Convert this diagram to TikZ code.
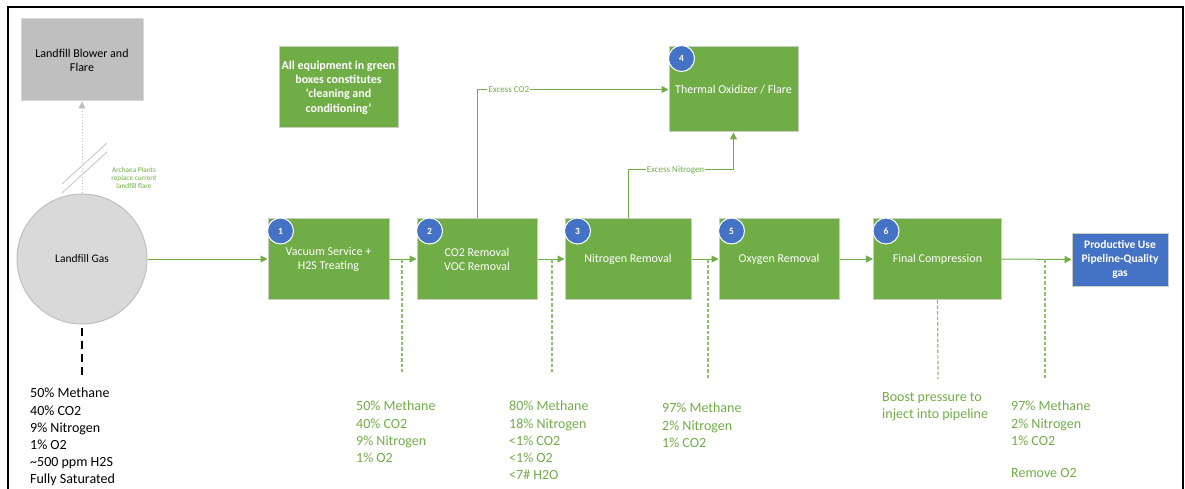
\documentclass[tikz,border=0pt]{standalone}
\usepackage{fontspec}
\setmainfont{Carlito}
\usetikzlibrary{arrows.meta,positioning,calc}
\definecolor{grn}{HTML}{70AD47}
\definecolor{lgrn}{HTML}{8CC26A}
\definecolor{bdr}{HTML}{C8CFC2}
\definecolor{blu}{HTML}{4472C4}
\definecolor{gbox}{HTML}{BFBFBF}
\definecolor{gcirc}{HTML}{D9D9D9}
\tikzset{
  procbox/.style={draw=bdr, line width=1pt, fill=grn, text=white, align=center,
    font=\fontsize{12}{14}\selectfont, inner sep=2pt},
  badge/.style={circle, fill=blu, draw=white, line width=1pt, minimum size=26pt,
    inner sep=0pt, text=white, font=\bfseries\fontsize{9.5}{10}\selectfont},
  flow/.style={draw=grn, line width=1pt, -{Triangle[length=7pt,width=7pt]}},
  tap/.style={draw=lgrn, line width=1.2pt, dash pattern=on 3.5pt off 2pt},
  gtext/.style={text=grn, align=left, anchor=north west, inner sep=0pt,
    font=\fontsize{14}{17.2}\selectfont},
  elabel/.style={fill=white, text=grn, inner sep=1pt, font=\fontsize{9}{10}\selectfont}
}
\begin{document}
\begin{tikzpicture}[x=1pt,y=-1pt]
\useasboundingbox (0,0) rectangle (1185,489);
% frame
\draw[line width=2pt] (8,489) -- (8,7) -- (1183,7) -- (1183,489);

% gray box and circle
\node[draw=gbox!60, line width=1pt, fill=gbox, minimum width=122pt, minimum height=82pt,
  align=center, font=\fontsize{12}{14}\selectfont] (blower) at (82,60) {Landfill Blower and\\Flare};
\node[circle, draw=gbox, line width=1pt, fill=gcirc, minimum size=130pt, inner sep=0pt,
  font=\fontsize{11.5}{13}\selectfont] (lfg) at (82,259) {Landfill Gas};
\draw[draw=gbox, line width=1pt, dash pattern=on 1.5pt off 1.5pt,
  -{Triangle[length=7pt,width=7pt]}] (lfg.north) -- (blower.south);
\draw[gbox!80, line width=1pt] (62,184) -- (107,143);
\draw[gbox!80, line width=1pt] (62,193) -- (107,152);
\node[text=grn, align=center, inner sep=0pt, font=\fontsize{7.3}{8.3}\selectfont] (archaea) at (134,178)
  {Archaea Plants\\replace current\\landfill flare};

% note
\node[procbox, font=\bfseries\fontsize{12}{14.3}\selectfont, minimum width=119pt, minimum height=81pt]
  (note) at (338.5,87.5) {All equipment in green\\boxes constitutes\\‘cleaning and\\conditioning’};

% process boxes
\node[procbox, minimum width=121pt, minimum height=81pt] (b1) at (328.5,259) {Vacuum Service +\\H2S Treating};
\node[procbox, minimum width=120pt, minimum height=81pt] (b2) at (477,259) {CO2 Removal\\VOC Removal};
\node[procbox, minimum width=126pt, minimum height=81pt] (b3) at (628,259) {Nitrogen Removal};
\node[procbox, minimum width=129pt, minimum height=85pt] (b4) at (733.5,89.5) {Thermal Oxidizer / Flare};
\node[procbox, minimum width=120pt, minimum height=81pt] (b5) at (779,259) {Oxygen Removal};
\node[procbox, minimum width=128pt, minimum height=81pt] (b6) at (937.5,259) {Final Compression};
\node[procbox, fill=blu, font=\bfseries\fontsize{11.5}{14}\selectfont, minimum width=96pt, minimum height=53pt]
  (use) at (1120,259.5) {Productive Use\\Pipeline-Quality\\gas};

% badges
\node[badge] (n1) at ($(b1.north west)+(13,13)$) {1};
\node[badge] (n2) at ($(b2.north west)+(13,13)$) {2};
\node[badge] (n3) at ($(b3.north west)+(13,13)$) {3};
\node[badge] (n4) at ($(b4.north west)+(13,12)$) {4};
\node[badge] (n5) at ($(b5.north west)+(13,13)$) {5};
\node[badge] (n6) at ($(b6.north west)+(13,13)$) {6};

% main flow
\draw[flow] (lfg.east) -- (b1.west);
\draw[flow] (b1.east) -- (b2.west);
\draw[flow] (b2.east) -- (b3.west);
\draw[flow] (b3.east) -- (b5.west);
\draw[flow] (b5.east) -- (b6.west);
\draw[flow] (b6.east) -- (use.west);

% excess streams
\draw[flow] (b2.north) |- node[elabel, pos=0.583] {Excess CO2} (b4.west);
\coordinate (nbend) at (628,170);
\draw[flow] (b3.north) -- (nbend) -| node[elabel, pos=0.225] {Excess Nitrogen} (b4.south);

% taps
\coordinate (t1a) at (402,259); \coordinate (t1b) at (402,372);
\coordinate (t2a) at (552,259); \coordinate (t2b) at (552,372);
\coordinate (t3a) at (708,259); \coordinate (t3b) at (708,379);
\coordinate (t4b) at (938,379);
\coordinate (t5a) at (1045,259); \coordinate (t5b) at (1045,379);
\draw[tap] (t1a) -- (t1b);
\draw[tap] (t2a) -- (t2b);
\draw[tap] (t3a) -- (t3b);
\draw[tap] (b6.south) -- (t4b);
\draw[tap] (t5a) -- (t5b);

% black composition
\coordinate (c1) at (82,328); \coordinate (c2) at (82,378);
\draw[line width=1.5pt, dash pattern=on 8pt off 5pt] (c1) -- (c2);
\node[gtext, text=black] (comp0) at (30,388) {50\% Methane\\40\% CO2\\9\% Nitrogen\\1\% O2\\\textasciitilde500 ppm H2S\\Fully Saturated};

% green compositions
\node[gtext] (comp1) at (356,401) {50\% Methane\\40\% CO2\\9\% Nitrogen\\1\% O2};
\node[gtext] (comp2) at (509,401) {80\% Methane\\18\% Nitrogen\\<1\% CO2\\<1\% O2\\<7\# H2O};
\node[gtext] (comp3) at (662,403) {97\% Methane\\2\% Nitrogen\\1\% CO2};
\node[gtext] (boost) at (882,392) {Boost pressure to\\inject into pipeline};
\node[gtext] (comp5) at (1011,401) {97\% Methane\\2\% Nitrogen\\1\% CO2\\[15pt]Remove O2};
\end{tikzpicture}
\end{document}
